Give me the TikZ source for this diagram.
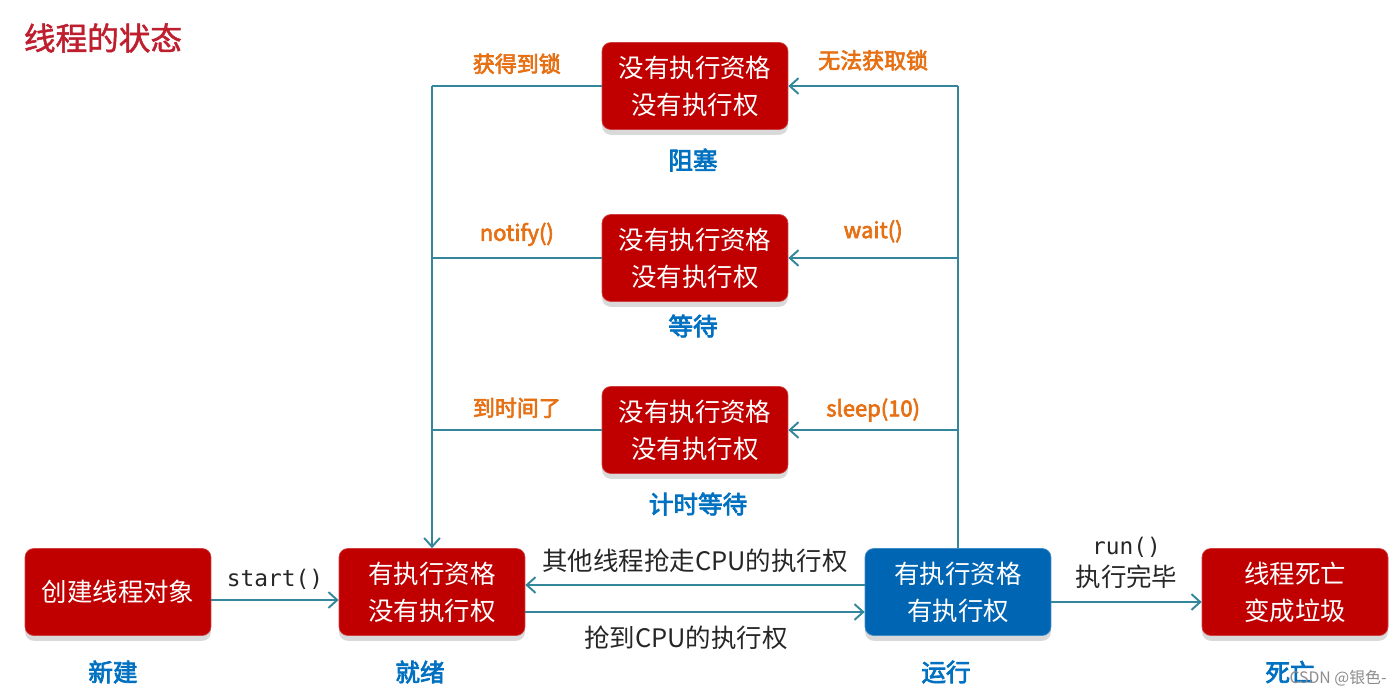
\documentclass[tikz,border=0pt]{standalone}
\usepackage{fontspec}
\setmainfont{Noto Sans CJK SC}
\newfontfamily\heavyfont{Noto Sans CJK SC}[FakeBold=3]
\newfontfamily\titlefont{Noto Sans CJK SC}[FakeBold=1.5]
\setmonofont{DejaVu Sans Mono}
\usetikzlibrary{arrows.meta,shadows}
\definecolor{BoxRed}{RGB}{192,0,0}
\definecolor{BoxBlue}{RGB}{0,102,180}
\definecolor{TagBlue}{RGB}{0,112,192}
\definecolor{CondOrange}{RGB}{230,112,20}
\definecolor{LineTeal}{RGB}{52,135,155}
\definecolor{TitleRed}{RGB}{190,30,45}
\tikzset{
    state/.style={draw=BoxRed!75!white, fill=BoxRed, rounded corners=5pt, text=white,
        minimum width=3.72cm, minimum height=1.74cm, align=center,
        font=\fontsize{14.5}{21}\selectfont,
        drop shadow={shadow xshift=0pt, shadow yshift=-3pt, fill=black!25, opacity=0.6}},
    runbox/.style={state, draw=BoxBlue!75!white, fill=BoxBlue},
    tag/.style={text=TagBlue, font=\heavyfont\fontsize{14}{16}\selectfont},
    cond/.style={text=CondOrange, font=\heavyfont\fontsize{12.5}{14}\selectfont},
    plain/.style={text=black!85, font=\fontsize{14.5}{17}\selectfont},
    link/.style={draw=LineTeal, line width=1.1pt},
    arr/.style={link, -{Straight Barb[length=5pt, width=9pt]}}
}

\begin{document}
\begin{tikzpicture}[x=0.02cm, y=-0.02cm]
\useasboundingbox (0,0) rectangle (1389,694);
% Nodes
\node[text=TitleRed, font=\titlefont\fontsize{18}{20}\selectfont] (title) at (103,38) {线程的状态};

\node[state] (blocked) at (695,86) {没有执行资格\\没有执行权};
\node[tag] (blockedtag) at (693,160) {阻塞};
\node[state] (waiting) at (695,258) {没有执行资格\\没有执行权};
\node[tag] (waitingtag) at (693,326) {等待};
\node[state] (timed) at (695,430) {没有执行资格\\没有执行权};
\node[tag] (timedtag) at (698,504) {计时等待};

\node[state] (newobj) at (118,592) {创建线程对象};
\node[tag] (newtag) at (113,672) {新建};
\node[state] (ready) at (432,592) {有执行资格\\没有执行权};
\node[tag] (readytag) at (420,672) {就绪};
\node[runbox] (running) at (958,592) {有执行资格\\有执行权};
\node[tag] (runningtag) at (946,672) {运行};
\node[state] (dead) at (1295,592) {线程死亡\\变成垃圾};
\node[tag] (deadtag) at (1290,672) {死亡};

\node[text=black!45, font=\fontsize{9}{10}\selectfont] (mark) at (1338,678) {CSDN @银色-};

\coordinate (lblocked) at (432,86);
\coordinate (lwaiting) at (432,258);
\coordinate (ltimed) at (432,430);
\coordinate (rblocked) at (958,86);
\coordinate (rwaiting) at (958,258);
\coordinate (rtimed) at (958,430);

% Arrows
\draw[link] (blocked.west) -- node[cond, midway, above=3pt] {获得到锁} (lblocked);
\draw[link] (waiting.west) -- node[cond, midway, above=3pt] {notify()} (lwaiting);
\draw[link] (timed.west) -- node[cond, midway, above=3pt] {到时间了} (ltimed);
\draw[arr] (lblocked) -- (ready.north);

\draw[link] (running.north) -- (rblocked);
\draw[arr] (rblocked) -- node[cond, midway, above=5pt] {无法获取锁} (blocked.east);
\draw[arr] (rwaiting) -- node[cond, midway, above=5pt] {wait()} (waiting.east);
\draw[arr] (rtimed) -- node[cond, midway, above=1pt] {sleep(10)} (timed.east);

\draw[arr] ([yshift=-0.16cm]newobj.east) -- node[midway, above=2pt, text=black!85, font=\ttfamily\fontsize{13}{15}\selectfont] {start()} ([yshift=-0.16cm]ready.west);
\draw[arr] ([yshift=0.14cm]running.west) -- node[plain, midway, above=3pt] {其他线程抢走CPU的执行权} ([yshift=0.14cm]ready.east);
\draw[arr] ([yshift=-0.4cm]ready.east) -- node[plain, midway, below=4pt, xshift=-0.18cm] {抢到CPU的执行权} ([yshift=-0.4cm]running.west);
\draw[arr] ([yshift=-0.2cm]running.east) -- node[plain, midway, above=4pt, align=center] {\ttfamily\fontsize{13}{15}\selectfont run()\\[1pt]执行完毕} ([yshift=-0.2cm]dead.west);
\end{tikzpicture}
\end{document}
